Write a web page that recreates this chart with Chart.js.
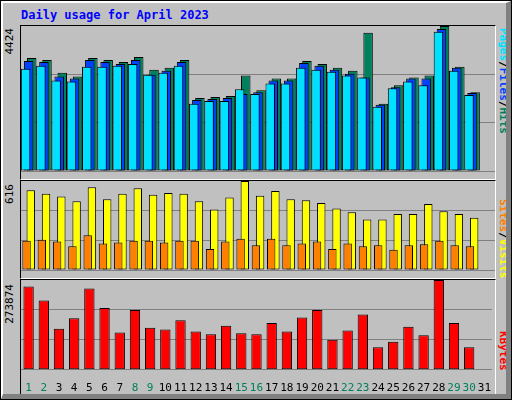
<!DOCTYPE html>
<html>
<head>
<meta charset="utf-8">
<script src="https://cdn.jsdelivr.net/npm/chart.js@4"></script>
<style>
  body { margin: 0; background: #fff; }
  #frame { position: absolute; left: 0; top: 0; width: 510px; height: 398px; background: #c0c0c0;
    border: 1px solid #000; }
  #frame:after { content: ''; position: absolute; left: 0; top: 0; right: 0; bottom: 0;
    border-top: 2px solid #fff; border-left: 2px solid #fff; border-right: 5px solid #808080; border-bottom: 5px solid #808080; pointer-events: none; }
  .title { position: absolute; left: 20px; top: 7px; font: bold 12px "DejaVu Sans Mono", monospace; color: #0000ff; }
  .panel { position: absolute; left: 19px; width: 474px; border-top: 1px solid #000; border-left: 1px solid #000;
    border-right: 1px solid #fff; border-bottom: 1px solid #fff; }
  .panel div { position: relative; width: 100%; height: 100%; }
  .ylab { position: absolute; left: 2px; font: 11px "DejaVu Sans Mono", monospace; color: #000;
    writing-mode: vertical-rl; transform: rotate(180deg); }
  .rlab { position: absolute; left: 496px; font: bold 11px "DejaVu Sans Mono", monospace; writing-mode: vertical-rl; color: #000; }
</style>
</head>
<body>
<div id="frame">
  <div class="title">Daily usage for April 2023</div>
  <div class="ylab" style="top:27px">4424</div>
  <div class="ylab" style="top:183px">616</div>
  <div class="ylab" style="top:283px">273874</div>
  <div class="rlab" style="top:27px"><span style="color:#00e0ff">Pages</span>/<span style="color:#0040ff">Files</span>/<span style="color:#00805c">Hits</span></div>
  <div class="rlab" style="top:198px"><span style="color:#ff8000">Sites</span>/<span style="color:#ffff00">Visits</span></div>
  <div class="rlab" style="top:330px"><span style="color:#ff0000">KBytes</span></div>
  <div class="panel" style="top:24px;height:153px"><div><canvas id="c1"></canvas></div></div>
  <div class="panel" style="top:179px;height:97px"><div><canvas id="c2"></canvas></div></div>
  <div class="panel" style="top:278px;height:119px;border-bottom:none"><div><canvas id="c3"></canvas></div></div>
</div>
<script>
const days = Array.from({ length: 31 }, (_, i) => String(i + 1));
const weekendDays = [1, 2, 8, 9, 15, 16, 22, 23, 29, 30];

const hits = [3445, 3386, 3000, 2881, 3445, 3386, 3326, 3475, 3089, 3148, 3386, 2228, 2257, 2287, 2911,
  2465, 2822, 2822, 3356, 3267, 3148, 3059, 4217, 2049, 2614, 2851, 2911, 4424, 3178, 2406];
const files = [3356, 3326, 2881, 2822, 3386, 3326, 3267, 3386, 2940, 3059, 3326, 2168, 2198, 2228, 2346,
  2406, 2762, 2762, 3297, 3208, 3089, 2970, 2851, 2020, 2554, 2822, 2822, 4336, 3148, 2376];
const pages = [3119, 3208, 2762, 2732, 3178, 3178, 3208, 3267, 2940, 3000, 3208, 2049, 2138, 2138, 2495,
  2346, 2673, 2673, 3148, 3089, 3029, 2911, 2851, 1960, 2525, 2732, 2614, 4247, 3059, 2317];
const visits = [552, 527, 508, 476, 572, 489, 527, 565, 521, 533, 527, 476, 419, 502, 616,
  514, 546, 489, 483, 464, 425, 400, 349, 349, 387, 387, 457, 406, 387, 362];
const sites = [203, 210, 197, 165, 241, 184, 191, 203, 203, 191, 203, 203, 146, 197, 216,
  171, 216, 171, 184, 197, 146, 184, 165, 171, 140, 171, 178, 203, 171, 165];
const kbytes = [253917, 211122, 125532, 156915, 248211, 188298, 114120, 182592, 128385, 122679, 151209,
  116973, 108414, 134091, 111267, 108414, 142650, 116973, 159768, 182592, 91296, 119826, 168327,
  68472, 85590, 131238, 105561, 273874, 142650, 68472];

const maxHits = 4424, maxVisits = 616, maxKbytes = 273874;

// lower order is drawn on top
function bar(label, data, color, barPct, order) {
  return { label, data, backgroundColor: color, borderColor: '#000', borderWidth: 1,
    borderSkipped: false, barPercentage: barPct, categoryPercentage: 1, order };
}

function makeChart(id, datasets, max, catPct, showDays) {
  datasets.forEach(d => d.categoryPercentage = catPct);
  new Chart(document.getElementById(id), {
    type: 'bar',
    data: { labels: days, datasets },
    options: {
      responsive: true, maintainAspectRatio: false, animation: false,
      plugins: { legend: { display: false }, tooltip: { enabled: false } },
      layout: { padding: 0 },
      scales: {
        x: {
          grid: { display: false }, border: { display: false },
          ticks: {
            display: showDays, maxRotation: 0, autoSkip: false, padding: 4,
            font: { family: 'DejaVu Sans Mono', size: 11 },
            color: ctx => weekendDays.includes(ctx.index + 1) ? '#00805c' : '#000'
          }
        },
        y: {
          min: 0, max,
          afterBuildTicks: s => { s.ticks = [0, max / 3, 2 * max / 3].map(v => ({ value: v })); },
          ticks: { display: false },
          grid: { color: '#808080', lineWidth: 1, drawTicks: false },
          border: { display: false }
        }
      }
    }
  });
}

makeChart('c1', [
  bar('Hits', hits, '#00805c', 3.1, 3),
  bar('Files', files, '#0040ff', 3.1, 2),
  bar('Pages', pages, '#00e0ff', 3.1, 1)
], maxHits, 0.6, false);

makeChart('c2', [
  bar('Visits', visits, '#ffff00', 2, 2),
  bar('Sites', sites, '#ff8000', 2, 1)
], maxVisits, 0.55, false);

makeChart('c3', [
  bar('KBytes', kbytes, '#ff0000', 0.68, 1)
], maxKbytes, 1, true);
</script>
</body>
</html>
